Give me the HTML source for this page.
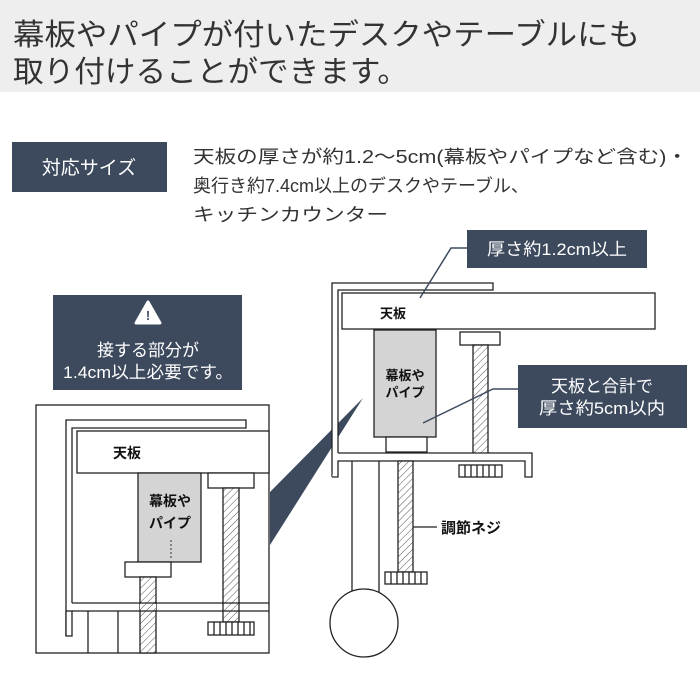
<!DOCTYPE html>
<html><head><meta charset="utf-8"><style>
html,body{margin:0;padding:0;background:#fff;}
svg{display:block;}
text{font-family:"Liberation Sans","Noto Sans CJK JP",sans-serif;}
</style></head><body>
<svg width="700" height="700" viewBox="0 0 700 700" xmlns="http://www.w3.org/2000/svg">
<defs>
<pattern id="h" width="5" height="5" patternUnits="userSpaceOnUse" patternTransform="rotate(45)">
<rect width="5" height="5" fill="#fff"/><line x1="0" y1="0" x2="0" y2="5" stroke="#555" stroke-width="1"/>
</pattern>
</defs>
<rect x="0" y="0" width="700" height="92" fill="#eeeeee"/>
<text x="13" y="45" font-size="30" fill="#333" textLength="627" lengthAdjust="spacingAndGlyphs">幕板やパイプが付いたデスクやテーブルにも</text>
<text x="13" y="82" font-size="30" fill="#333" textLength="395" lengthAdjust="spacingAndGlyphs">取り付けることができます。</text>

<rect x="12" y="142" width="155" height="50" fill="#3d4a5e"/>
<text x="89" y="174" font-size="19" fill="#fff" text-anchor="middle">対応サイズ</text>
<text x="193" y="163" font-size="18" fill="#333" textLength="495" lengthAdjust="spacingAndGlyphs">天板の厚さが約1.2～5cm(幕板やパイプなど含む)・</text>
<text x="193" y="192" font-size="18" fill="#333">奥行き約7.4cm以上のデスクやテーブル、</text>
<text x="193" y="221" font-size="18" fill="#333" textLength="195" lengthAdjust="spacingAndGlyphs">キッチンカウンター</text>

<rect x="53" y="295" width="189" height="95" fill="#3d4a5e"/>
<polygon points="148,302 160,323 136,323" fill="#fff" stroke="#fff" stroke-width="3" stroke-linejoin="round"/>
<text x="148" y="320" font-size="13" font-weight="bold" fill="#3d4a5e" text-anchor="middle">!</text>
<text x="148" y="356" font-size="17" fill="#fff" text-anchor="middle">接する部分が</text>
<text x="148" y="378" font-size="17" fill="#fff" text-anchor="middle" textLength="170" lengthAdjust="spacingAndGlyphs">1.4cm以上必要です。</text>

<polygon points="363,398 270,492 270,545" fill="#3d4a5e"/>

<g stroke="#222" stroke-width="1.3" fill="#fff">
<rect x="36" y="405" width="233" height="248"/>
<path d="M66,636 L66,420 L246,420 L246,428 L72,428 L72,603" />
<rect x="66" y="611" width="6" height="25"/>
<rect x="77" y="431" width="192" height="42"/>
<rect x="138" y="473" width="63" height="89" fill="#d4d4d4"/>
<rect x="125" y="562" width="46" height="15"/>
<rect x="140" y="577" width="16" height="76" fill="url(#h)"/>
<rect x="208" y="473" width="46" height="15"/>
<rect x="223" y="488" width="16" height="134" fill="url(#h)"/>
<path d="M72,603 L269,603 M72,611 L269,611" fill="none"/>
<rect x="208" y="622" width="46" height="13"/>
<path d="M214,622v13M220,622v13M226,622v13M232,622v13M238,622v13M244,622v13M250,622v13" fill="none"/>
<path d="M88,611 L88,653 M118,611 L118,653" fill="none"/>
</g>
<rect x="140" y="604" width="16" height="6" fill="url(#h)"/>
<line x1="171" y1="540" x2="171" y2="560" stroke="#333" stroke-dasharray="2,2"/>
<text x="113" y="458" font-size="14" font-weight="bold" fill="#111">天板</text>
<text x="170" y="506" font-size="14" font-weight="bold" fill="#111" text-anchor="middle">幕板や</text>
<text x="170" y="528" font-size="14" font-weight="bold" fill="#111" text-anchor="middle">パイプ</text>

<g stroke="#222" stroke-width="1.3" fill="#fff">
<path d="M332,477 L332,283 L493,283 L493,290 L338,290 L338,453"/>
<rect x="342" y="293" width="313" height="36"/>
<rect x="374" y="330" width="62" height="107" fill="#d4d4d4"/>
<rect x="386" y="437" width="41" height="15"/>
<rect x="460" y="332" width="40" height="13"/>
<rect x="473" y="345" width="15" height="109" fill="url(#h)"/>
<path d="M338,453 L532,453 L532,477 L525,477 L525,461 L338,461 L338,477 L332,477" />
<rect x="459" y="465" width="43" height="12"/>
<path d="M465,465v12M471,465v12M477,465v12M483,465v12M489,465v12M495,465v12" fill="none"/>
<path d="M352,461 L352,592 M379,461 L379,592" fill="none"/>
<circle cx="364" cy="623" r="34"/>
<rect x="398" y="461" width="15" height="111" fill="url(#h)"/>
<rect x="385" y="572" width="42" height="12"/>
<path d="M391,572v12M397,572v12M403,572v12M409,572v12M415,572v12M421,572v12" fill="none"/>
</g>
<text x="380" y="318" font-size="13" font-weight="bold" fill="#111">天板</text>
<text x="405" y="380" font-size="13" font-weight="bold" fill="#111" text-anchor="middle">幕板や</text>
<text x="405" y="397" font-size="13" font-weight="bold" fill="#111" text-anchor="middle">パイプ</text>
<line x1="413" y1="527" x2="437" y2="527" stroke="#222" stroke-width="1.3"/>
<text x="441" y="533" font-size="15" font-weight="bold" fill="#111">調節ネジ</text>

<rect x="467" y="230" width="180" height="38" fill="#3d4a5e"/>
<text x="557" y="255" font-size="17" fill="#fff" text-anchor="middle" textLength="140" lengthAdjust="spacingAndGlyphs">厚さ約1.2cm以上</text>
<polyline points="467,248 451,248 420,298" fill="none" stroke="#3d4a5e" stroke-width="1.5"/>
<rect x="518" y="365" width="169" height="63" fill="#3d4a5e"/>
<text x="602" y="392" font-size="17" fill="#fff" text-anchor="middle">天板と合計で</text>
<text x="602" y="414" font-size="17" fill="#fff" text-anchor="middle" textLength="126" lengthAdjust="spacingAndGlyphs">厚さ約5cm以内</text>
<polyline points="518,389 493,389 423,423" fill="none" stroke="#3d4a5e" stroke-width="1.5"/>
</svg>
</body></html>
